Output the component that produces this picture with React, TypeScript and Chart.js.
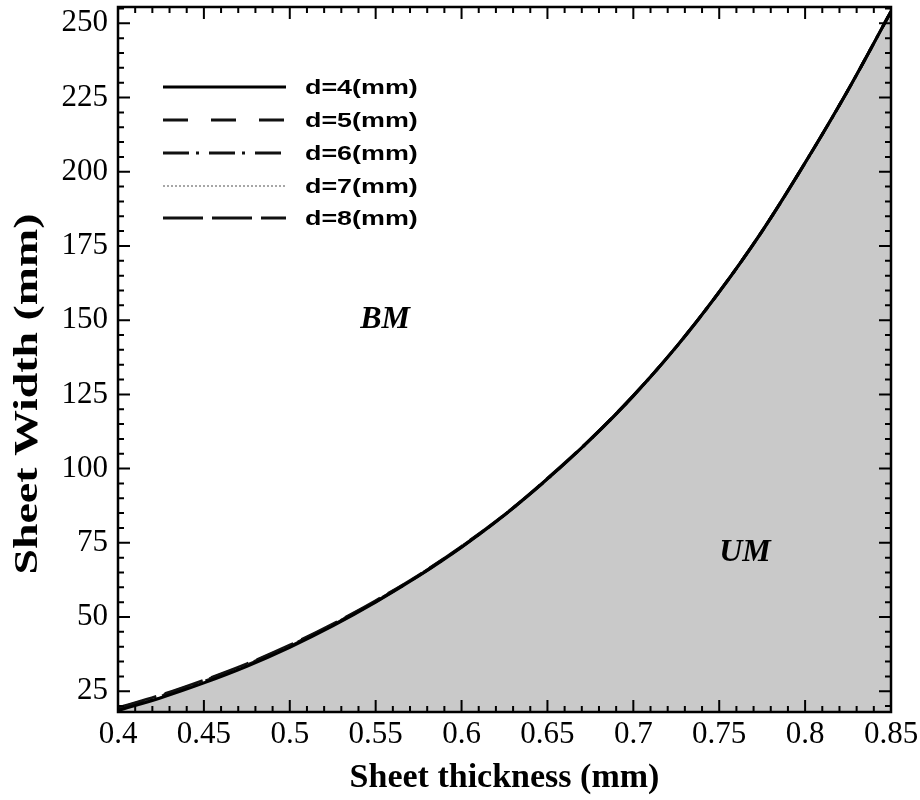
import React, { useEffect, useRef } from 'react';
import { Chart, registerables } from 'chart.js';

Chart.register(...registerables);

// ---- data ----
const thickness = [0.4, 0.425, 0.45, 0.475, 0.5, 0.525, 0.55, 0.575, 0.6, 0.625, 0.65, 0.675, 0.7, 0.725, 0.75, 0.775, 0.8, 0.825, 0.85];
const widthD4 = [18.5, 22.8, 27.8, 33.4, 39.8, 47.0, 55.0, 63.8, 73.5, 84.3, 96.5, 109.8, 124.5, 141.0, 159.5, 180.0, 203.0, 227.5, 254];
const widthD5 = [19.2, 23.5, 28.5, 34.0, 40.3, 47.4, 55.3, 64.0, 73.7, 84.4, 96.6, 109.8, 124.5, 141.0, 159.5, 180.0, 203.0, 227.5, 254];
const widthD6 = [19.0, 23.3, 28.3, 33.8, 40.1, 47.3, 55.2, 63.9, 73.6, 84.4, 96.5, 109.8, 124.5, 141.0, 159.5, 180.0, 203.0, 227.5, 254];
const widthD7 = [18.8, 23.1, 28.1, 33.6, 40.0, 47.2, 55.1, 63.9, 73.6, 84.3, 96.5, 109.8, 124.5, 141.0, 159.5, 180.0, 203.0, 227.5, 254];
const widthD8 = [19.4, 23.7, 28.7, 34.2, 40.5, 47.6, 55.5, 64.1, 73.8, 84.5, 96.7, 109.9, 124.6, 141.0, 159.5, 180.0, 203.0, 227.5, 254];

const seriesLabels = ['d=4(mm)', 'd=5(mm)', 'd=6(mm)', 'd=7(mm)', 'd=8(mm)'];
const seriesValues = [widthD4, widthD5, widthD6, widthD7, widthD8];

const xTicks = [0.4, 0.45, 0.5, 0.55, 0.6, 0.65, 0.7, 0.75, 0.8, 0.85];
const xTickLabels = ['0.4', '0.45', '0.5', '0.55', '0.6', '0.65', '0.7', '0.75', '0.8', '0.85'];
const yTicks = [25, 50, 75, 100, 125, 150, 175, 200, 225, 250];
const yTickLabels = ['25', '50', '75', '100', '125', '150', '175', '200', '225', '250'];

const regionLabels = [
  { text: 'BM', x: 0.5555, y: 150 },
  { text: 'UM', x: 0.765, y: 71.5 },
];

// ---- styles ----
const dashes: number[][] = [[], [25, 23], [26, 7, 3, 10], [2, 2], [40, 9]];
const lineColors = ['#000', '#111', '#111', '#8a8a8a', '#111'];
const lineWidths = [3, 3, 3, 1.5, 3];

const X_MIN = 0.4, X_MAX = 0.85, Y_MIN = 18, Y_MAX = 255.5;

const framePlugin = {
  id: 'frameTicksLegend',
  afterDraw(chart: any) {
    const { ctx, chartArea, scales } = chart;
    const { left, right, top, bottom } = chartArea;
    const xs = scales.x, ys = scales.y;
    ctx.save();
    // frame
    ctx.strokeStyle = '#000';
    ctx.lineWidth = 2.5;
    ctx.setLineDash([]);
    ctx.strokeRect(left, top, right - left, bottom - top);
    // inward ticks, x (minor every 0.01)
    ctx.lineWidth = 2;
    for (let i = 0; i <= 45; i++) {
      const v = X_MIN + i * 0.01;
      const px = xs.getPixelForValue(v);
      const len = i % 5 === 0 ? 12 : 6;
      ctx.beginPath();
      ctx.moveTo(px, bottom); ctx.lineTo(px, bottom - len);
      ctx.moveTo(px, top); ctx.lineTo(px, top + len);
      ctx.stroke();
    }
    // inward ticks, y (minor every 5)
    for (let v = 20; v <= 255; v += 5) {
      const py = ys.getPixelForValue(v);
      const len = v % 25 === 0 ? 12 : 6;
      ctx.beginPath();
      ctx.moveTo(left, py); ctx.lineTo(left + len, py);
      ctx.moveTo(right, py); ctx.lineTo(right - len, py);
      ctx.stroke();
    }
    // legend
    const rowY = [87, 120, 153, 186, 218];
    seriesLabels.forEach((lab, i) => {
      const y = rowY[i];
      ctx.save();
      ctx.strokeStyle = lineColors[i];
      ctx.lineWidth = lineWidths[i];
      ctx.setLineDash(dashes[i]);
      ctx.beginPath();
      ctx.moveTo(163, y); ctx.lineTo(286, y);
      ctx.stroke();
      ctx.setLineDash([]);
      ctx.fillStyle = '#000';
      ctx.font = 'bold 21px "Liberation Sans", Arial, sans-serif';
      ctx.textAlign = 'left';
      ctx.textBaseline = 'middle';
      ctx.translate(305, y + 1);
      ctx.scale(1.28, 1);
      ctx.fillText(lab, 0, 0);
      ctx.restore();
    });
    // region labels
    ctx.fillStyle = '#000';
    ctx.font = 'italic bold 32px "Liberation Serif", "Times New Roman", serif';
    ctx.textAlign = 'center';
    ctx.textBaseline = 'middle';
    regionLabels.forEach((r) => {
      ctx.fillText(r.text, xs.getPixelForValue(r.x), ys.getPixelForValue(r.y));
    });
    // axis titles
    ctx.font = 'bold 34px "Liberation Serif", "Times New Roman", serif';
    ctx.textBaseline = 'alphabetic';
    ctx.textAlign = 'center';
    ctx.fillText('Sheet thickness (mm)', (left + right) / 2, 787);
    ctx.save();
    ctx.translate(37, 394);
    ctx.rotate(-Math.PI / 2);
    ctx.scale(1.35, 1);
    ctx.fillText('Sheet Width (mm)', 0, 0);
    ctx.restore();
    ctx.restore();
  },
};

export default function App() {
  const ref = useRef<HTMLCanvasElement>(null);
  useEffect(() => {
    document.body.style.margin = '0';
    const canvas = ref.current;
    if (!canvas) return;
    const tickFont = { family: '"Liberation Serif", "Times New Roman", serif', size: 31 };
    const chart = new Chart(canvas, {
      type: 'line',
      data: {
        datasets: seriesValues.map((vals, i) => ({
          label: seriesLabels[i],
          data: thickness.map((t, j) => ({ x: t, y: vals[j] })),
          borderColor: lineColors[i],
          borderWidth: lineWidths[i],
          borderDash: dashes[i],
          pointRadius: 0,
          cubicInterpolationMode: 'monotone' as const,
          fill: i === 0 ? 'start' : false,
          backgroundColor: i === 0 ? '#c9c9c9' : 'transparent',
        })),
      },
      options: {
        animation: false,
        responsive: false,
        layout: { padding: { top: 7, right: 29, left: 0, bottom: 0 } },
        plugins: {
          legend: { display: false },
          tooltip: { enabled: false },
          filler: { drawTime: 'beforeDatasetsDraw' },
        } as any,
        scales: {
          x: {
            type: 'linear',
            min: X_MIN,
            max: X_MAX,
            afterBuildTicks: (s: any) => { s.ticks = xTicks.map((v) => ({ value: v })); },
            afterFit: (s: any) => { s.height = 88; s.paddingLeft = 0; s.paddingRight = 0; },
            ticks: {
              font: tickFont,
              color: '#000',
              padding: 4,
              maxRotation: 0,
              autoSkip: false,
              callback: (v: any) => xTickLabels[xTicks.indexOf(v)] ?? '',
            },
            grid: { display: false, drawTicks: false },
            border: { display: false },
          },
          y: {
            type: 'linear',
            min: Y_MIN,
            max: Y_MAX,
            afterBuildTicks: (s: any) => { s.ticks = yTicks.map((v) => ({ value: v })); },
            afterFit: (s: any) => { s.width = 118; s.paddingTop = 0; s.paddingBottom = 0; },
            ticks: {
              font: tickFont,
              color: '#000',
              padding: 10,
              autoSkip: false,
              callback: (v: any) => yTickLabels[yTicks.indexOf(v)] ?? '',
            },
            grid: { display: false, drawTicks: false },
            border: { display: false },
          },
        },
      } as any,
      plugins: [framePlugin],
    });
    return () => chart.destroy();
  }, []);
  return (
    <div style={{ width: 920, height: 800, background: '#fff' }}>
      <canvas ref={ref} width={920} height={800} style={{ display: 'block' }} />
    </div>
  );
}
